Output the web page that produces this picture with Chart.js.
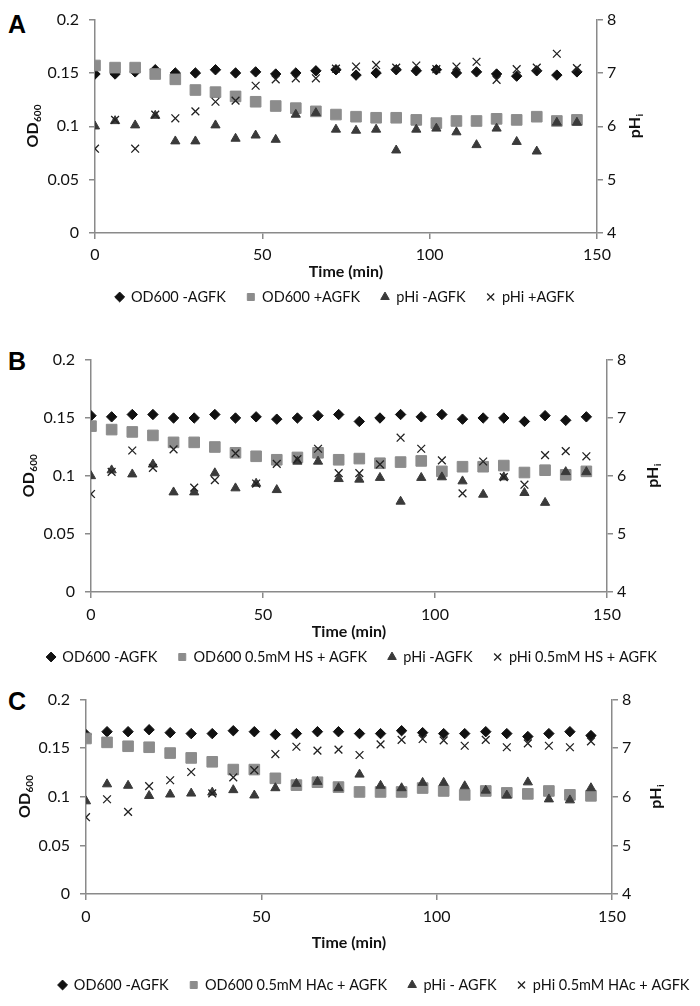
<!DOCTYPE html>
<html>
<head>
<meta charset="utf-8">
<script src="https://cdn.jsdelivr.net/npm/chart.js@4.4.1/dist/chart.umd.min.js"></script>
<style>
  body { margin: 0; background: #fff; width: 700px; height: 1006px; position: relative; overflow: hidden; }
  canvas { position: absolute; left: 0; }
  .tag { position: absolute; left: 8px; font: bold 25px "Liberation Sans", Arial, sans-serif; line-height: 1; color: #000; }
</style>
</head>
<body>
<div class="tag" style="top:12px">A</div>
<div class="tag" style="top:349px">B</div>
<div class="tag" style="top:689px">C</div>
<canvas id="chartA" width="700" height="315" style="top:0px"></canvas>
<canvas id="chartB" width="700" height="350" style="top:325px"></canvas>
<canvas id="chartC" width="700" height="324" style="top:680px"></canvas>
<script>
// sampling times (min)
const times = [0, 6, 12, 18, 24, 30, 36, 42, 48, 54, 60, 66, 72, 78, 84, 90, 96, 102, 108, 114, 120, 126, 132, 138, 144];

// panel A
const labelsA = ['OD600 -AGFK', 'OD600 +AGFK', 'pHi -AGFK', 'pHi +AGFK'];
const odMinusA = [0.149, 0.149, 0.151, 0.153, 0.150, 0.150, 0.153, 0.150, 0.151, 0.149, 0.150, 0.152, 0.153, 0.148, 0.150, 0.153, 0.152, 0.153, 0.150, 0.151, 0.149, 0.147, 0.152, 0.148, 0.151];
const odPlusA = [0.157, 0.155, 0.155, 0.149, 0.144, 0.134, 0.132, 0.128, 0.123, 0.119, 0.117, 0.114, 0.111, 0.109, 0.108, 0.108, 0.106, 0.103, 0.105, 0.105, 0.107, 0.106, 0.109, 0.105, 0.106];
const phMinusA = [6.0, 6.1, 6.02, 6.2, 5.72, 5.72, 6.02, 5.77, 5.83, 5.75, 6.22, 6.25, 5.94, 5.92, 5.94, 5.55, 5.94, 5.96, 5.89, 5.65, 5.96, 5.71, 5.53, 6.07, 6.07];
const phPlusA = [5.58, 6.12, 5.58, 6.22, 6.15, 6.28, 6.46, 6.48, 6.76, 6.88, 6.9, 6.9, 7.08, 7.12, 7.15, 7.1, 7.14, 7.07, 7.12, 7.21, 6.87, 7.07, 7.1, 7.36, 7.09];

// panel B
const labelsB = ['OD600 -AGFK', 'OD600 0.5mM HS + AGFK', 'pHi -AGFK', 'pHi 0.5mM HS + AGFK'];
const odMinusB = [0.152, 0.151, 0.153, 0.153, 0.150, 0.150, 0.153, 0.150, 0.151, 0.149, 0.150, 0.152, 0.153, 0.147, 0.150, 0.153, 0.151, 0.153, 0.149, 0.150, 0.150, 0.147, 0.152, 0.148, 0.151];
const odPlusB = [0.143, 0.140, 0.138, 0.135, 0.129, 0.129, 0.125, 0.120, 0.117, 0.114, 0.116, 0.120, 0.114, 0.115, 0.111, 0.112, 0.113, 0.104, 0.108, 0.108, 0.109, 0.103, 0.105, 0.101, 0.104];
const phMinusB = [6.0, 6.1, 6.03, 6.2, 5.72, 5.72, 6.05, 5.79, 5.87, 5.76, 6.25, 6.25, 5.95, 5.94, 5.97, 5.56, 5.97, 5.98, 5.91, 5.68, 5.98, 5.71, 5.54, 6.07, 6.07];
const phPlusB = [5.69, 6.07, 6.44, 6.14, 6.46, 5.80, 5.93, 6.39, 5.87, 6.21, 6.29, 6.47, 6.05, 6.05, 6.2, 6.66, 6.47, 6.27, 5.7, 6.25, 5.98, 5.85, 6.36, 6.43, 6.34];

// panel C
const labelsC = ['OD600 -AGFK', 'OD600 0.5mM HAc + AGFK', 'pHi - AGFK', 'pHi 0.5mM HAc + AGFK'];
const odMinusC = [0.164, 0.167, 0.167, 0.169, 0.166, 0.165, 0.165, 0.168, 0.167, 0.164, 0.165, 0.167, 0.167, 0.165, 0.165, 0.168, 0.166, 0.165, 0.165, 0.167, 0.165, 0.162, 0.165, 0.167, 0.163];
const odPlusC = [0.160, 0.156, 0.152, 0.151, 0.145, 0.140, 0.136, 0.128, 0.128, 0.119, 0.112, 0.115, 0.110, 0.105, 0.105, 0.105, 0.109, 0.106, 0.102, 0.106, 0.104, 0.103, 0.106, 0.102, 0.101];
const phMinusC = [5.91, 6.26, 6.23, 6.02, 6.05, 6.07, 6.09, 6.14, 6.03, 6.18, 6.27, 6.31, 6.18, 6.46, 6.23, 6.18, 6.29, 6.29, 6.22, 6.13, 6.03, 6.3, 5.95, 5.93, 6.18];
const phPlusC = [5.58, 5.95, 5.69, 6.22, 6.34, 6.51, 6.07, 6.40, 6.55, 6.88, 7.03, 6.95, 6.97, 6.86, 7.08, 7.17, 7.19, 7.16, 7.05, 7.17, 7.02, 7.1, 7.05, 7.02, 7.14];

const odTicks = [0, 0.05, 0.1, 0.15, 0.2];
const phTicks = [4, 5, 6, 7, 8];
const timeTicks = [0, 50, 100, 150];

const AXIS = '#8a8a8a';
const INK = '#111';
const FONT = 'Lato';

// rotated y titles with subscripts (OD600, pHi)
function drawSub(ctx, main, sub, x, y) {
    ctx.save();
    ctx.translate(x, y);
    ctx.rotate(-Math.PI / 2);
    ctx.fillStyle = INK;
    ctx.textBaseline = 'middle';
    ctx.textAlign = 'left';
    ctx.font = `bold 16px ${FONT}`;
    const w1 = ctx.measureText(main).width;
    ctx.font = `bold 10px ${FONT}`;
    const w2 = ctx.measureText(sub).width;
    const sx = -(w1 + w2) / 2;
    ctx.font = `bold 16px ${FONT}`;
    ctx.fillText(main, sx, 0);
    ctx.font = `bold 10px ${FONT}`;
    ctx.fillText(sub, sx + w1 + 0.5, 5);
    ctx.restore();
}

const sideTitles = {
    id: 'sideTitles',
    afterLayout(chart, args, opts) {
        // legend is not quite centred in the original figure
        if (opts.legendShift) {
            chart.legend.left += opts.legendShift;
            chart.legend.right += opts.legendShift;
        }
    },
    afterDraw(chart, args, opts) {
        const {ctx, chartArea} = chart;
        const cy = (chartArea.top + chartArea.bottom) / 2;
        drawSub(ctx, 'OD', '600', chartArea.left - opts.leftGap, cy);
        drawSub(ctx, 'pH', 'i', chartArea.right + opts.rightGap, cy);
    }
};

function pts(ys) {
    return times.map((t, i) => ({x: t, y: ys[i]}));
}

function makePanel(id, g, labels, od1, od2, ph1, ph2) {
    const legendPad = 21, legendFont = 14.5;
    const legendH = legendFont + legendPad + 10;
    const legendTop = g.legendY - legendPad - legendFont / 2;
    const xH = legendTop - g.bottom;
    const titlePad = legendTop - 9.6 - g.titleY;
    const tickPad = g.tickY - g.bottom - 6 - 9.6;

    const tickFont = {family: FONT, size: 16};
    const grid = {drawOnChartArea: false, tickLength: 6, color: AXIS, lineWidth: 1.5};
    const border = {color: AXIS, width: 1.5};
    const plain = v => String(v);

    return new Chart(document.getElementById(id), {
        type: 'scatter',
        data: {
            datasets: [
                {label: labels[0], data: pts(od1), yAxisID: 'y', order: 4,
                 pointStyle: 'rectRot', pointRadius: 5.2, backgroundColor: '#111', borderColor: '#111', borderWidth: 1},
                {label: labels[1], data: pts(od2), yAxisID: 'y', order: 3,
                 pointStyle: 'rect', pointRadius: 7.5, backgroundColor: '#8c8c8c', borderColor: '#8c8c8c', borderWidth: 1},
                {label: labels[2], data: pts(ph1), yAxisID: 'y2', order: 2,
                 pointStyle: 'triangle', pointRadius: 5.3, backgroundColor: '#3a3a3a', borderColor: '#3a3a3a', borderWidth: 1},
                {label: labels[3], data: pts(ph2), yAxisID: 'y2', order: 1,
                 pointStyle: 'crossRot', pointRadius: 5.5, backgroundColor: '#222', borderColor: '#222', borderWidth: 1.3}
            ]
        },
        options: {
            responsive: false,
            animation: false,
            events: [],
            layout: {
                padding: {top: g.top - g.canvasTop, left: 0, right: 0,
                          bottom: g.canvasTop + g.canvasH - legendTop - legendH}
            },
            scales: {
                x: {
                    type: 'linear', position: 'bottom', min: 0, max: 150,
                    afterBuildTicks: s => { s.ticks = timeTicks.map(v => ({value: v})); },
                    afterFit: s => { s.height = xH; },
                    ticks: {font: tickFont, color: INK, padding: tickPad, maxRotation: 0, callback: plain},
                    grid, border,
                    title: {display: true, text: 'Time (min)', color: INK,
                            font: {family: FONT, size: 16, weight: 'bold'},
                            padding: {top: 0, bottom: titlePad}}
                },
                y: {
                    position: 'left', min: 0, max: 0.2,
                    afterBuildTicks: s => { s.ticks = odTicks.map(v => ({value: v})); },
                    afterFit: s => { s.width = g.left; },
                    ticks: {font: tickFont, color: INK, padding: 10, callback: plain},
                    grid, border
                },
                y2: {
                    position: 'right', min: 4, max: 8,
                    afterBuildTicks: s => { s.ticks = phTicks.map(v => ({value: v})); },
                    afterFit: s => { s.width = 700 - g.right; },
                    ticks: {font: tickFont, color: INK, padding: 4, callback: plain},
                    grid, border
                }
            },
            plugins: {
                tooltip: {enabled: false},
                legend: {
                    position: 'bottom',
                    labels: {
                        usePointStyle: true, boxWidth: 8, boxHeight: 7, padding: legendPad,
                        font: {family: FONT, size: legendFont}, color: INK,
                        sort: (a, b) => a.datasetIndex - b.datasetIndex
                    }
                },
                sideTitles: {leftGap: g.leftGap, rightGap: g.rightGap, legendShift: g.legendShift}
            }
        },
        plugins: [sideTitles]
    });
}

makePanel('chartA',
    {canvasTop: 0, canvasH: 315, top: 15, bottom: 233, left: 95, right: 597,
     tickY: 255, titleY: 272, legendY: 297, leftGap: 62, rightGap: 38, legendShift: -5},
    labelsA, odMinusA, odPlusA, phMinusA, phPlusA);
makePanel('chartB',
    {canvasTop: 325, canvasH: 350, top: 360, bottom: 592, left: 91, right: 607,
     tickY: 615, titleY: 632, legendY: 657, leftGap: 62, rightGap: 46, legendShift: 2},
    labelsB, odMinusB, odPlusB, phMinusB, phPlusB);
makePanel('chartC',
    {canvasTop: 680, canvasH: 324, top: 699, bottom: 894, left: 86, right: 612,
     tickY: 917, titleY: 943, legendY: 985, leftGap: 61, rightGap: 44, legendShift: 24},
    labelsC, odMinusC, odPlusC, phMinusC, phPlusC);
</script>
</body>
</html>
